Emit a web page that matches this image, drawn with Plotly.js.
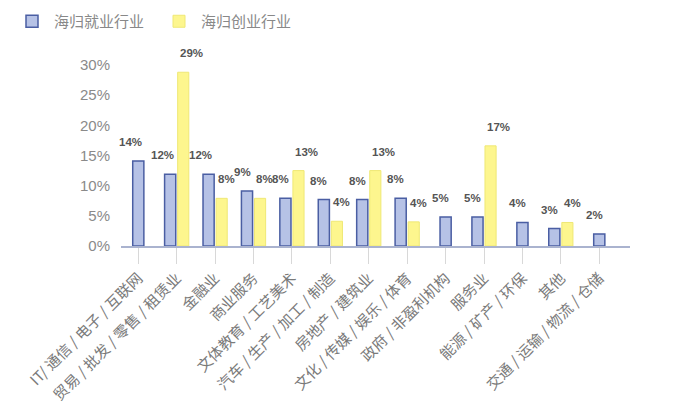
<!DOCTYPE html>
<html>
<head>
<meta charset="utf-8">
<script src="https://cdn.plot.ly/plotly-3.0.1.min.js"></script>
<style>
html,body{margin:0;padding:0;background:#fff;}
#chart{width:682px;height:420px;}
</style>
</head>
<body>
<div id="chart"></div>
<script>
const categories = [
  "IT/ 通信 / 电子 / 互联网",
  "贸易 / 批发 / 零售 / 租赁业",
  "金融业",
  "商业服务",
  "文体教育 / 工艺美术",
  "汽车 / 生产 / 加工 / 制造",
  "房地产 / 建筑业",
  "文化 / 传媒 / 娱乐 / 体育",
  "政府 / 非盈利机构",
  "服务业",
  "能源 / 矿产 / 环保",
  "其他",
  "交通 / 运输 / 物流 / 仓储"
];
const employment = [14.1, 11.9, 11.9, 9.1, 7.9, 7.7, 7.7, 7.9, 4.8, 4.8, 3.9, 2.9, 2.0];
const startup = [null, 28.8, 7.9, 7.9, 12.5, 4.1, 12.5, 4.0, null, 16.6, null, 3.9, null];
const seriesNames = ["海归就业行业", "海归创业行业"];
const yTickVals = [0, 5, 10, 15, 20, 25, 30];
const yTickText = ["0%", "5%", "10%", "15%", "20%", "25%", "30%"];

const BW = 0.29, GAP = 0.05;
const blueOffset = startup.map(v => v == null ? -BW / 2 : -BW - GAP / 2);
const yellowOffset = startup.map(() => GAP / 2);
const idx = categories.map((_, i) => i);

const traces = [
  {
    type: 'bar', name: seriesNames[0], x: idx, y: employment,
    width: BW, offset: blueOffset,
    marker: {color: '#b6c2e6', line: {color: '#4a5ea3', width: 1.5}},
    hoverinfo: 'skip'
  },
  {
    type: 'bar', name: seriesNames[1], x: idx, y: startup,
    width: BW, offset: yellowOffset,
    marker: {color: '#fdf68e', line: {color: '#efe875', width: 1}},
    hoverinfo: 'skip'
  }
];

const labelFont = {family: 'Liberation Sans, Arial, sans-serif', size: 11.5, color: '#555'};
const annotations = [];
employment.forEach((v, i) => {
  annotations.push({
    x: i + blueOffset[i] + BW, y: v, xref: 'x', yref: 'y',
    text: '<b>' + Math.round(v) + '%</b>', showarrow: false,
    xanchor: 'right', yanchor: 'middle', yshift: 19, font: labelFont
  });
});
startup.forEach((v, i) => {
  if (v == null) return;
  annotations.push({
    x: i + yellowOffset[i], y: v, xref: 'x', yref: 'y',
    text: '<b>' + Math.round(v) + '%</b>', showarrow: false,
    xanchor: 'left', yanchor: 'middle', yshift: 19, font: labelFont
  });
});

const layout = {
  width: 682, height: 420,
  margin: {l: 121, r: 52, t: 65, b: 174},
  paper_bgcolor: '#fff', plot_bgcolor: '#fff',
  barmode: 'overlay',
  showlegend: true,
  legend: {
    orientation: 'h', xref: 'container', yref: 'container',
    x: 10 / 682, y: 1 - 5 / 420, xanchor: 'left', yanchor: 'top',
    itemwidth: 34, entrywidth: 98, entrywidthmode: 'pixels',
    font: {family: 'Noto Sans CJK SC, sans-serif', size: 15, color: '#888'},
    itemclick: false
  },
  xaxis: {
    range: [-0.45, 12.8],
    tickmode: 'array', tickvals: idx, ticktext: categories,
    tickangle: -45,
    showline: true, linecolor: '#aab3cf', linewidth: 1.5,
    ticks: 'outside', ticklen: 16, tickcolor: '#d8d8d8', tickwidth: 1,
    showgrid: false, zeroline: false,
    tickfont: {family: 'Noto Sans CJK SC, sans-serif', size: 15, color: '#7a7a7a'}
  },
  yaxis: {
    range: [0, 30],
    tickmode: 'array', tickvals: yTickVals, ticktext: yTickText,
    showline: false, showgrid: false, zeroline: false,
    ticks: '', ticklabelstandoff: 10,
    tickfont: {family: 'Liberation Sans, Arial, sans-serif', size: 15, color: '#8a8a8a'}
  },
  annotations: annotations
};

Plotly.newPlot('chart', traces, layout, {displayModeBar: false, staticPlot: true});
</script>
</body>
</html>
